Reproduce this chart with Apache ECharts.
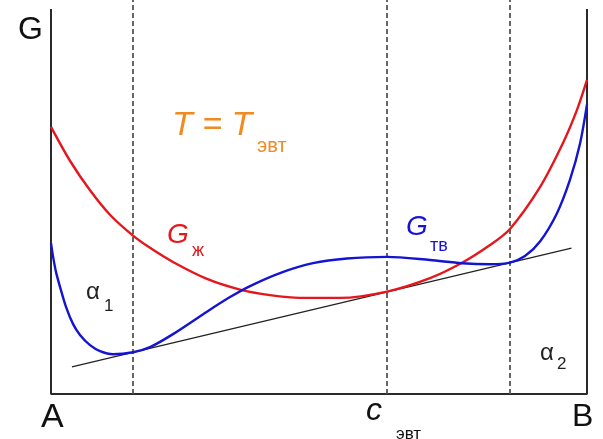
<!DOCTYPE html>
<html>
<head>
<meta charset="utf-8">
<script src="https://cdn.jsdelivr.net/npm/echarts@6/dist/echarts.min.js"></script>
<style>
  html, body { margin: 0; padding: 0; background: #fff; }
  #chart { width: 603px; height: 439px; }
</style>
</head>
<body>
<div id="chart"></div>
<script>
// composition axis: 0 = A, 100 = B; G in arbitrary units
const liquidX = [0, 3.54, 7.28, 11.0, 15.3, 18.47, 22.76, 29.1, 35.26, 40.86, 46.46, 53.92, 62.69, 70.71, 76.68, 81.9, 85.63, 91.23, 95.52, 98.13, 100]
const liquidG = [67.8, 59.2, 51.7, 45.5, 40.2, 37.1, 33.5, 29.2, 26.5, 25.1, 24.4, 24.4, 26.0, 29.4, 33.3, 37.8, 41.9, 52.5, 63.7, 72.1, 79.7]

const solidX = [0, 0.37, 0.93, 1.68, 2.8, 4.1, 5.41, 7.28, 9.14, 11.57, 15.3, 18.47, 22.76, 29.1, 33.4, 37.13, 42.72, 48.88, 55.22, 62.69, 70.71, 76.68, 81.9, 85.63, 88.43, 91.23, 94.4, 96.83, 98.69, 100]
const solidG = [38.3, 35.0, 31.0, 27.2, 22.1, 17.8, 15.0, 12.4, 10.9, 10.1, 10.6, 11.9, 15.2, 20.9, 24.6, 27.4, 30.7, 33.2, 34.4, 34.8, 34.0, 33.2, 32.95, 33.35, 35.0, 38.7, 45.9, 54.4, 63.5, 73.5]

// common tangent
const tangentX = [3.9, 97.1]
const tangentG = [6.9, 37.0]

// alpha1 boundary, eutectic, alpha2 boundary
const dashX = [15.3, 62.7, 85.6]

// frame: left wall (A), bottom, right wall (B)
const frameX = [0, 0, 100, 100]
const frameG = [97.7, 0, 0, 97.7]

const zip = (xs, ys) => xs.map((x, i) => [x, ys[i]])

const chart = echarts.init(document.getElementById('chart'), null, { renderer: 'canvas' })

const font = '"Liberation Sans", Arial, sans-serif'
function txt(text, x, y, size, color, italic) {
  return {
    type: 'text', left: x, top: y - size / 2, z: 100,
    style: { text, fill: color, font: (italic ? 'italic ' : '') + size + 'px ' + font }
  }
}

const option = {
  animation: false,
  backgroundColor: '#fff',
  grid: { left: 51, width: 536, top: 0, height: 394 },
  xAxis: {
    type: 'value', min: 0, max: 100,
    axisLine: { show: false }, axisTick: { show: false }, axisLabel: { show: false }, splitLine: { show: false }
  },
  yAxis: {
    type: 'value', min: 0, max: 100, show: false
  },
  series: [
    {
      name: 'frame', type: 'line', data: zip(frameX, frameG), symbol: 'none',
      lineStyle: { color: '#2a2a2a', width: 2 }, z: 3,
      markLine: {
        silent: true, symbol: 'none', label: { show: false },
        lineStyle: { color: '#555', width: 1.8, type: [5, 3] },
        data: dashX.map(x => ({ xAxis: x }))
      }
    },
    {
      name: 'tangent', type: 'line', data: zip(tangentX, tangentG), symbol: 'none',
      lineStyle: { color: '#222', width: 1.3 }, z: 4
    },
    {
      name: 'G liquid', type: 'line', data: zip(liquidX, liquidG), symbol: 'none', smooth: 0.3,
      lineStyle: { color: '#e5171d', width: 2.4 }, z: 5
    },
    {
      name: 'G solid', type: 'line', data: zip(solidX, solidG), symbol: 'none', smooth: 0.3,
      lineStyle: { color: '#1414d2', width: 2.4 }, z: 6
    }
  ],
  graphic: [
    txt('G', 18, 30, 32, '#111', false),
    txt('A', 41, 418, 34, '#111', false),
    txt('B', 572, 417, 32, '#111', false),
    txt('c', 366, 411, 32, '#111', true),
    txt('эвт', 396, 434, 17, '#111', false),
    txt('T = T', 172, 126, 34, '#f28a22', true),
    txt('эвт', 257, 146, 20, '#f28a22', false),
    txt('G', 167, 235, 28, '#e5171d', true),
    txt('ж', 192, 251, 18, '#e5171d', false),
    txt('G', 406, 227, 28, '#1414d2', true),
    txt('тв', 430, 246, 18, '#1414d2', false),
    txt('α', 86, 292, 24, '#222', false),
    txt('1', 104, 306, 17, '#222', false),
    txt('α', 540, 353, 24, '#222', false),
    txt('2', 557, 364, 17, '#222', false)
  ]
}

chart.setOption(option)
</script>
</body>
</html>
